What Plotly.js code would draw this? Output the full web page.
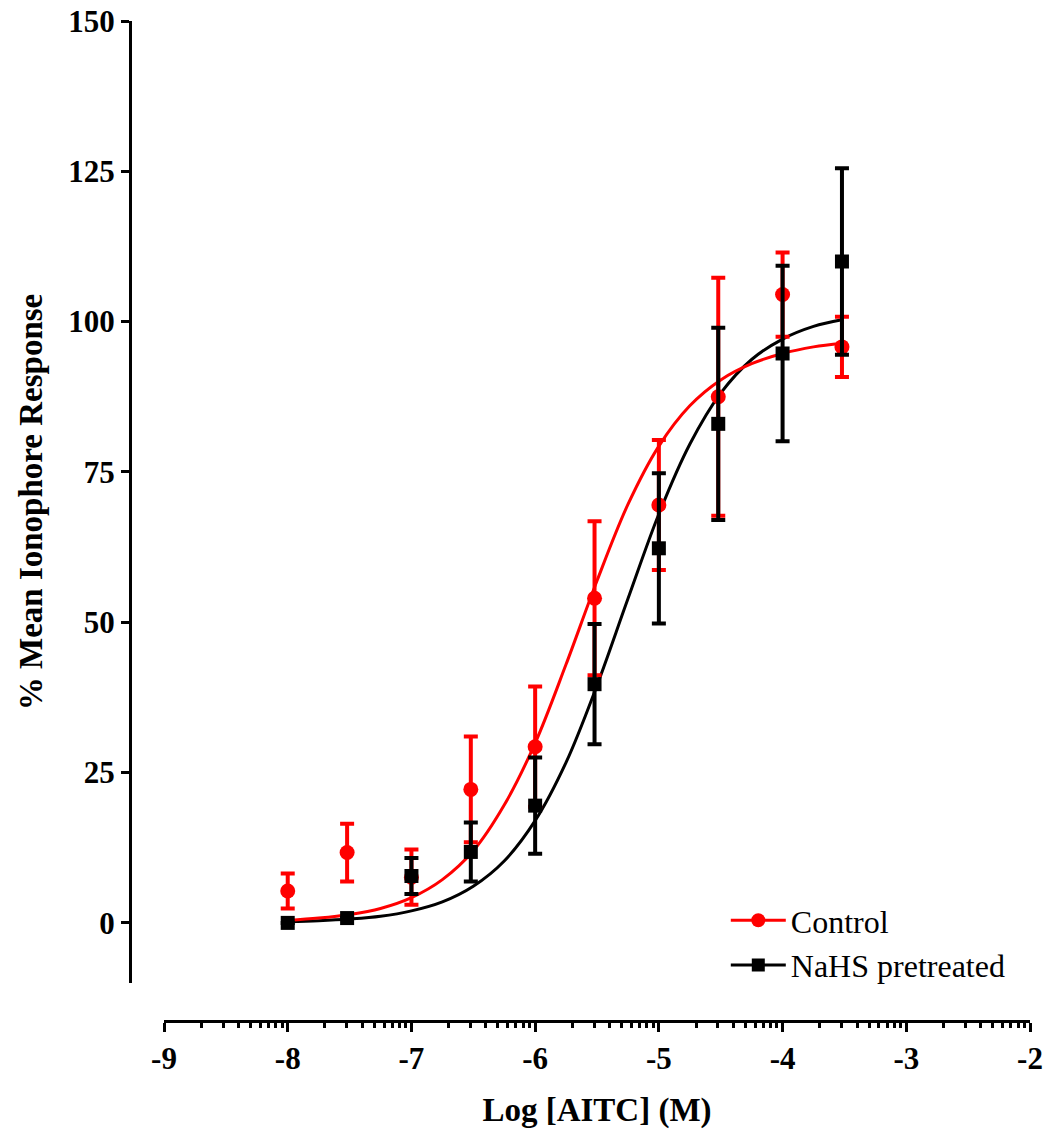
<!DOCTYPE html>
<html>
<head>
<meta charset="utf-8">
<script src="https://cdn.plot.ly/plotly-3.0.1.min.js"></script>
<style>html,body{margin:0;padding:0;background:#fff;}#chart{width:1043px;height:1133px;}</style>
</head>
<body>
<div id="chart"></div>
<script>
// Concentrations (log M)
var logConc = [-8, -7.52, -7, -6.52, -6, -5.52, -5, -4.52, -4, -3.52];
// Control (mean, SEM)
var controlMean = [5.3, 11.7, 7.6, 22.2, 29.3, 54.0, 69.5, 87.5, 104.5, 95.8];
var controlErr  = [2.9, 4.8, 4.6, 8.8, 10.0, 12.8, 10.8, 19.8, 7.0, 5.0];
// NaHS pretreated (mean, SEM)
var nahsMean = [0.0, 0.8, 7.8, 11.8, 19.5, 39.7, 62.3, 83.0, 94.7, 110.0];
var nahsErr  = [0.0, 0.0, 3.0, 4.9, 8.0, 10.0, 12.5, 16.0, 14.6, 15.5];
// Fitted curves
var curveX = [-8, -7.75, -7.5, -7.25, -7, -6.75, -6.5, -6.25, -6, -5.75, -5.5, -5.25, -5, -4.75, -4.5, -4.25, -4, -3.75, -3.52];
var controlCurve = [0.4, 0.8, 1.4, 2.4, 4.2, 7.2, 12.0, 19.6, 29.9, 43.0, 56.9, 69.6, 79.3, 86.0, 90.3, 93.0, 94.7, 95.8, 96.4];
var nahsCurve = [0.2, 0.36, 0.64, 1.1, 2.0, 3.5, 6.1, 10.3, 17.0, 26.7, 39.5, 53.9, 68.0, 79.6, 88.1, 93.7, 97.1, 99.2, 100.3];
var yTicks = [0, 25, 50, 75, 100, 125, 150];
var xTicks = [-9, -8, -7, -6, -5, -4, -3, -2];
var seriesNames = ['Control', 'NaHS pretreated'];

var RED = '#ff0000', BLACK = '#000000';
var FONT = 'Liberation Serif, Times New Roman, serif';

// minor ticks at log positions within each decade
var minorVals = [];
for (var d = -9; d < -2; d++) {
  for (var k = 2; k <= 9; k++) minorVals.push(d + Math.log10(k));
}

var traces = [
  {x: curveX, y: nahsCurve, mode: 'lines', line: {color: BLACK, width: 3, shape: 'spline'}, showlegend: false, hoverinfo: 'skip'},
  {x: curveX, y: controlCurve, mode: 'lines', line: {color: RED, width: 3, shape: 'spline'}, showlegend: false, hoverinfo: 'skip'},
  {x: logConc, y: controlMean, mode: 'markers', marker: {color: RED, symbol: 'circle', size: 15},
   error_y: {type: 'data', array: controlErr, visible: true, color: RED, thickness: 4, width: 7}, showlegend: false},
  {x: logConc, y: nahsMean, mode: 'markers', marker: {color: BLACK, symbol: 'square', size: 14},
   error_y: {type: 'data', array: nahsErr, visible: true, color: BLACK, thickness: 4, width: 7}, showlegend: false},
  {x: [null], y: [null], name: seriesNames[0], mode: 'lines+markers', line: {color: RED, width: 3}, marker: {color: RED, symbol: 'circle', size: 14}},
  {x: [null], y: [null], name: seriesNames[1], mode: 'lines+markers', line: {color: BLACK, width: 3}, marker: {color: BLACK, symbol: 'square', size: 13}}
];

var layout = {
  width: 1043, height: 1133,
  margin: {l: 130, r: 13, t: 21, b: 112},
  paper_bgcolor: '#fff', plot_bgcolor: '#fff',
  showlegend: true,
  legend: {x: 0.662, y: 0.128, xanchor: 'left', yanchor: 'top', bgcolor: 'rgba(0,0,0,0)',
           font: {family: FONT, size: 32, color: '#000'}, tracegroupgap: 0, itemwidth: 55},
  xaxis: {
    range: [-9, -2], domain: [0.0378, 1], anchor: 'free', position: 0,
    tickmode: 'array', tickvals: xTicks, ticktext: xTicks.map(String),
    showline: true, linecolor: BLACK, linewidth: 3,
    ticks: 'outside', ticklen: 9, tickwidth: 3, tickcolor: BLACK,
    minor: {tickmode: 'array', tickvals: minorVals, ticks: 'outside', ticklen: 5, tickwidth: 3, tickcolor: BLACK, showgrid: false},
    showgrid: false, zeroline: false,
    tickfont: {family: FONT, size: 31, color: '#000', weight: 'bold'},
    title: {text: '<b>Log [AITC] (M)</b>', font: {family: FONT, size: 33, color: '#000'}, standoff: 22}
  },
  yaxis: {
    range: [-10, 150], domain: [0.038, 1], anchor: 'free', position: 0,
    tickmode: 'array', tickvals: yTicks, ticktext: yTicks.map(String),
    showline: true, linecolor: BLACK, linewidth: 3,
    ticks: 'outside', ticklen: 8, tickwidth: 3, tickcolor: BLACK,
    showgrid: false, zeroline: false,
    tickfont: {family: FONT, size: 31, color: '#000', weight: 'bold'},
    title: {text: '<b>% Mean Ionophore Response</b>', font: {family: FONT, size: 33, color: '#000'}, standoff: 14}
  }
};

Plotly.newPlot('chart', traces, layout, {displayModeBar: false, staticPlot: true});
</script>
</body>
</html>
